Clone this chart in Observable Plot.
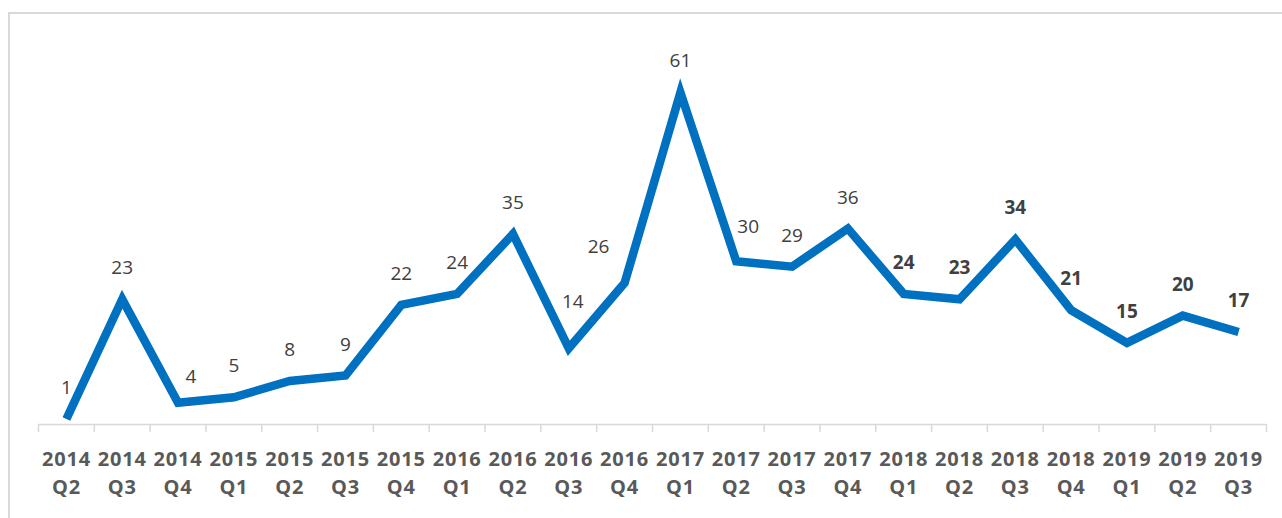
<!DOCTYPE html>
<html>
<head>
<meta charset="utf-8">
<script src="https://cdn.jsdelivr.net/npm/d3@7"></script>
<script src="https://cdn.jsdelivr.net/npm/@observablehq/plot@0.6"></script>
<style>
  html, body { margin: 0; padding: 0; background: #fff; overflow: hidden; }
  #wrap { position: relative; width: 1282px; height: 518px; }
  #frame { position: absolute; left: 8px; top: 12px; width: 1400px; height: 600px;
           border: 2px solid #d9d9d9; box-sizing: border-box; pointer-events: none; }
  #chart { position: absolute; left: 0; top: 0; }
  .xticks text { letter-spacing: 0.8px; }
</style>
</head>
<body>
<div id="wrap"><div id="chart"></div><div id="frame"></div></div>
<script>
// ---- data ----
const years    = ["2014","2014","2014","2015","2015","2015","2015","2016","2016","2016","2016","2017","2017","2017","2017","2018","2018","2018","2018","2019","2019","2019"];
const quarters = ["Q2","Q3","Q4","Q1","Q2","Q3","Q4","Q1","Q2","Q3","Q4","Q1","Q2","Q3","Q4","Q1","Q2","Q3","Q4","Q1","Q2","Q3"];
const values   = [1, 23, 4, 5, 8, 9, 22, 24, 35, 14, 26, 61, 30, 29, 36, 24, 23, 34, 21, 15, 20, 17];
const categories = years.map((y, i) => `${y} ${quarters[i]}`);

const data = categories.map((c, i) => ({cat: c, year: years[i], q: quarters[i], value: values[i], bold: +years[i] >= 2018}));

// ---- layout ----
const W = 1282, H = 518, ML = 38, MR = 16, MT = 43, MB = 94;
const step = (W - ML - MR) / categories.length;
const font = "'Open Sans', 'DejaVu Sans', sans-serif";

// label nudges (style, not data)
const nudges = {"2014 Q4": [13, -20], "2016 Q3": [4, -40], "2016 Q4": [-26, -30], "2017 Q2": [12, -28]};
const plain = data.filter(d => !nudges[d.cat]);
const nudged = data.filter(d => nudges[d.cat]);

const labelOpts = () => ({
  x: "cat", y: "value", text: d => String(d.value),
  fill: "#404040", fontSize: 19, fontFamily: font,
  textAnchor: "middle", lineAnchor: "bottom"
});

const marks = [
  Plot.ruleY([0], {stroke: "#d9d9d9", strokeWidth: 1.5}),
  Plot.ruleX(categories, {x: d => d, y1: 0, y2: 0, insetBottom: -8, dx: -step / 2, stroke: "#d9d9d9", strokeWidth: 1.5}),
  Plot.ruleX([categories[categories.length - 1]], {x: d => d, y1: 0, y2: 0, insetBottom: -8, dx: step / 2, stroke: "#d9d9d9", strokeWidth: 1.5}),
  Plot.line(data, {x: "cat", y: "value", stroke: "#0070C0", strokeWidth: 8.5,
                   strokeLinejoin: "miter", strokeLinecap: "butt", strokeMiterlimit: 10}),
  Plot.text(plain.filter(d => !d.bold), {...labelOpts(), fontWeight: "normal", dy: -25}),
  Plot.text(plain.filter(d => d.bold), {...labelOpts(), fontWeight: "bold", dy: -25}),
  ...nudged.map(d => Plot.text([d], {...labelOpts(), fontWeight: d.bold ? "bold" : "normal", dx: nudges[d.cat][0], dy: nudges[d.cat][1]})),
  Plot.axisX({tickSize: 0, tickPadding: 21, tickFormat: d => d.replace(" ", "\n"),
              fontSize: 20, fontWeight: "bold", fontFamily: font, fill: "#595959",
              lineHeight: 1.42, label: null, className: "xticks"})
];

const chart = Plot.plot({
  width: W, height: H,
  marginLeft: ML, marginRight: MR, marginTop: MT, marginBottom: MB,
  style: {background: "transparent", fontFamily: font, overflow: "visible"},
  x: {type: "point", domain: categories, padding: 0.5, round: false, axis: null},
  y: {domain: [0, 70], axis: null},
  marks
});
chart.querySelectorAll("[aria-label='x-axis tick label'] text").forEach(t => t.style.letterSpacing = "0.8px");
document.getElementById("chart").appendChild(chart);
</script>
</body>
</html>
